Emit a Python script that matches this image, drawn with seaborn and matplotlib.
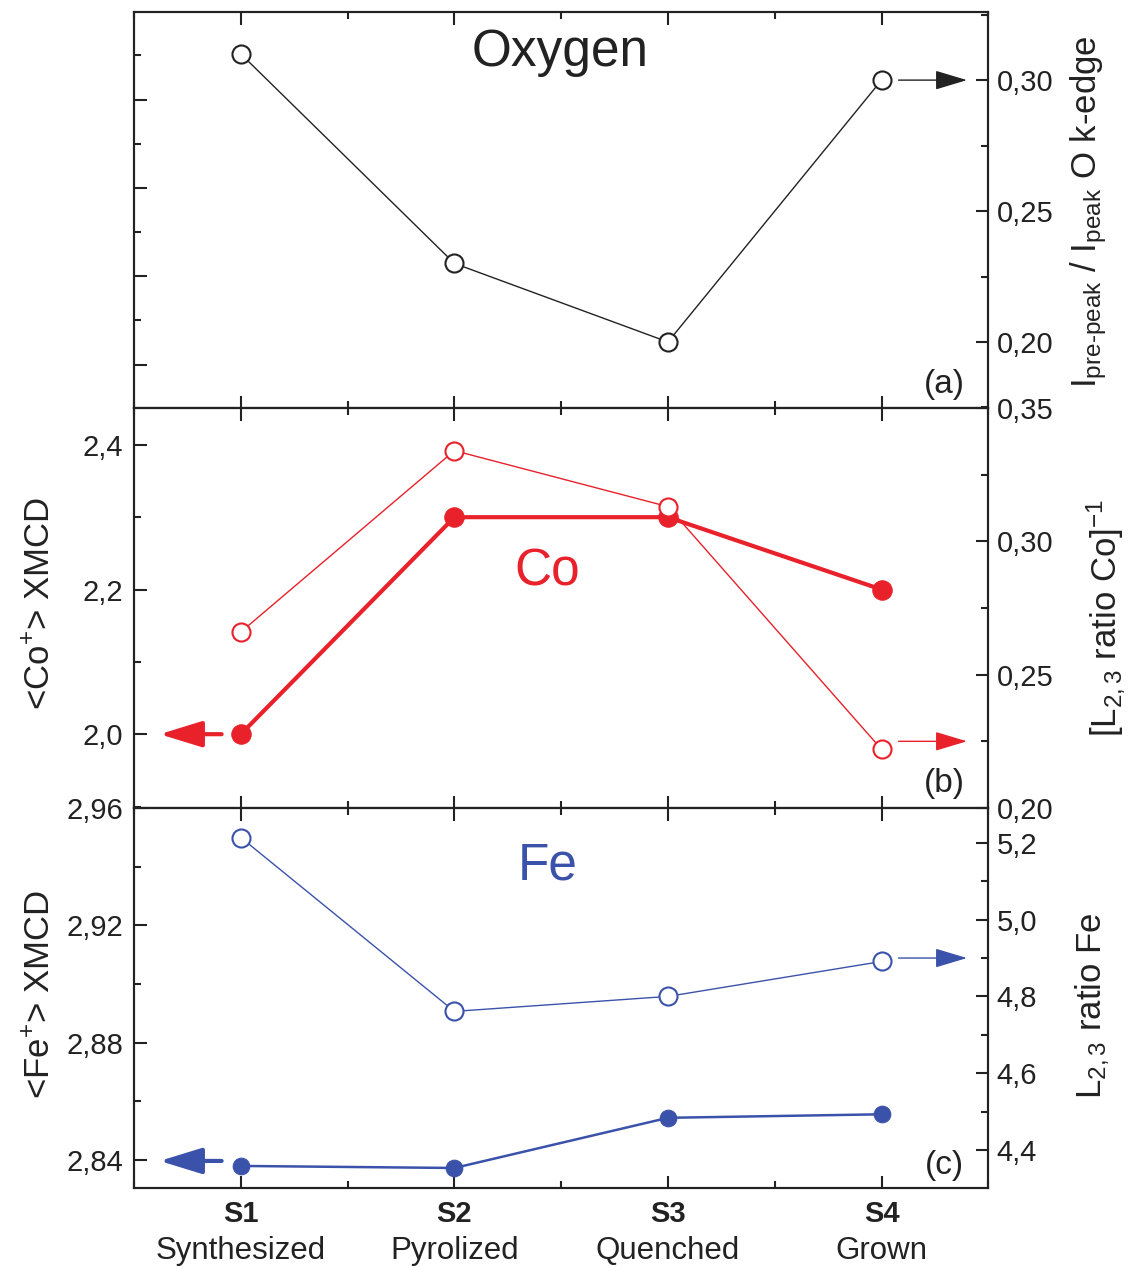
import numpy as np
import pandas as pd
import seaborn as sns
import matplotlib.pyplot as plt
from matplotlib.ticker import MultipleLocator, FuncFormatter, NullFormatter

samples = ['S1', 'S2', 'S3', 'S4']
stages = ['Synthesized', 'Pyrolized', 'Quenched', 'Grown']
pos = [1, 2, 3, 4]

oxygen_ratio = [0.310, 0.230, 0.200, 0.300]
co_xmcd = [2.00, 2.30, 2.30, 2.20]
co_inv_ratio = [0.266, 0.334, 0.313, 0.222]
fe_xmcd = [2.838, 2.8373, 2.8544, 2.8556]
fe_ratio = [5.214, 4.761, 4.800, 4.891]

RED = '#e8212b'
BLUE = '#3b52aa'
DARK = '#222222'

sns.set_style('ticks')
plt.rcParams['font.family'] = ['Liberation Sans', 'DejaVu Sans']
plt.rcParams['mathtext.fontset'] = 'custom'
plt.rcParams['mathtext.rm'] = 'Liberation Sans'
plt.rcParams['mathtext.it'] = 'Liberation Sans:italic'
plt.rcParams['mathtext.bf'] = 'Liberation Sans:bold'
plt.rcParams['axes.edgecolor'] = DARK
plt.rcParams['axes.linewidth'] = 1.5

TICK_FS = 21
LABEL_FS = 25
NAME_FS = 37


def comma(nd):
    return FuncFormatter(lambda v, p: f'{v:.{nd}f}'.replace('.', ','))


def style(ax, twin):
    ax.set_xlim(0.5, 4.5)
    ax.xaxis.set_major_locator(MultipleLocator(1))
    ax.xaxis.set_minor_locator(MultipleLocator(0.5))
    ax.tick_params(axis='x', which='both', direction='in', top=True, bottom=True,
                   labelbottom=False, color=DARK, width=1.5)
    ax.tick_params(axis='x', which='major', length=9)
    ax.tick_params(axis='x', which='minor', length=5)
    ax.tick_params(axis='y', which='both', direction='in', left=True, right=False,
                   labelsize=TICK_FS, color=DARK, width=1.5, labelcolor=DARK, pad=8)
    ax.tick_params(axis='y', which='major', length=9)
    ax.tick_params(axis='y', which='minor', length=5)
    twin.tick_params(axis='y', which='both', direction='in', right=True, left=False,
                     labelsize=TICK_FS, color=DARK, width=1.5, labelcolor=DARK, pad=6)
    twin.tick_params(axis='y', which='major', length=9)
    twin.tick_params(axis='y', which='minor', length=5)
    ax.set_xlabel('')


def arrow(ax, x0, x1, y, color, lw, hl, hw):
    ax.annotate('', xy=(x1, y), xytext=(x0, y),
                arrowprops=dict(arrowstyle=f'-|>,head_length={hl},head_width={hw}',
                                color=color, lw=lw, shrinkA=0, shrinkB=0,
                                mutation_scale=20))


fig = plt.figure(figsize=(11.36, 12.67), dpi=100)
L, W = 0.118, 0.752
ax_a = fig.add_axes([L, 0.678, W, 0.3125])
ax_b = fig.add_axes([L, 0.3623, W, 0.3157])
ax_c = fig.add_axes([L, 0.0624, W, 0.2999])

# (a) oxygen
tw_a = ax_a.twinx()
sns.lineplot(x=pos, y=oxygen_ratio, ax=tw_a, color=DARK, lw=1, marker='o',
             markersize=13, markerfacecolor='white', markeredgecolor=DARK,
             markeredgewidth=1.5)
ax_a.set_ylim(-0.49, 3.99)
ax_a.yaxis.set_major_locator(MultipleLocator(1))
ax_a.yaxis.set_minor_locator(MultipleLocator(0.5))
ax_a.yaxis.set_major_formatter(NullFormatter())
tw_a.set_ylim(0.1748, 0.326)
tw_a.yaxis.set_major_locator(MultipleLocator(0.05))
tw_a.yaxis.set_minor_locator(MultipleLocator(0.025))
tw_a.yaxis.set_major_formatter(comma(2))
style(ax_a, tw_a)
tw_a.set_ylabel(r'I$_{\mathrm{pre}\text{-}\mathrm{peak}}$ / I$_{\mathrm{peak}}$ O k-edge',
                fontsize=LABEL_FS, color=DARK)
tw_a.yaxis.set_label_coords(1.094, 0.495)
arrow(tw_a, 4.08, 4.40, oxygen_ratio[3], DARK, 1, 1.0, 0.3)
ax_a.text(0.499, 0.899, 'Oxygen', transform=ax_a.transAxes, ha='center',
          va='center', fontsize=NAME_FS, color=DARK)
ax_a.text(0.972, 0.06, '(a)', transform=ax_a.transAxes, ha='right',
          va='center', fontsize=24, color=DARK)

# (b) cobalt
tw_b = ax_b.twinx()
sns.lineplot(x=pos, y=co_xmcd, ax=ax_b, color=RED, lw=3, marker='o',
             markersize=14, markeredgecolor=RED)
sns.lineplot(x=pos, y=co_inv_ratio, ax=tw_b, color=RED, lw=1, marker='o',
             markersize=13, markerfacecolor='white', markeredgecolor=RED,
             markeredgewidth=1.5)
ax_b.set_ylim(1.898, 2.451)
ax_b.yaxis.set_major_locator(MultipleLocator(0.2))
ax_b.yaxis.set_minor_locator(MultipleLocator(0.1))
ax_b.yaxis.set_major_formatter(comma(1))
tw_b.set_ylim(0.20, 0.35)
tw_b.yaxis.set_major_locator(MultipleLocator(0.05))
tw_b.yaxis.set_minor_locator(MultipleLocator(0.025))
tw_b.yaxis.set_major_formatter(comma(2))
style(ax_b, tw_b)
ax_b.set_ylabel(r'<Co$^{+}$> XMCD', fontsize=LABEL_FS, color=DARK)
ax_b.yaxis.set_label_coords(-0.090, 0.51)
tw_b.set_ylabel(r'[L$_{2,3}$ ratio Co]$^{-1}$', fontsize=LABEL_FS, color=DARK)
tw_b.yaxis.set_label_coords(1.112, 0.475)
arrow(ax_b, 0.91, 0.62, co_xmcd[0], RED, 3, 1.3, 0.4)
arrow(tw_b, 4.08, 4.40, 0.225, RED, 1, 1.0, 0.3)
ax_b.text(0.484, 0.59, 'Co', transform=ax_b.transAxes, ha='center',
          va='center', fontsize=NAME_FS, color=RED)
ax_b.text(0.972, 0.06, '(b)', transform=ax_b.transAxes, ha='right',
          va='center', fontsize=24, color=DARK)

# (c) iron
tw_c = ax_c.twinx()
sns.lineplot(x=pos, y=fe_xmcd, ax=ax_c, color=BLUE, lw=1.8, marker='o',
             markersize=12, markeredgecolor=BLUE)
sns.lineplot(x=pos, y=fe_ratio, ax=tw_c, color=BLUE, lw=1, marker='o',
             markersize=13, markerfacecolor='white', markeredgecolor=BLUE,
             markeredgewidth=1.5)
ax_c.set_ylim(2.8305, 2.96)
ax_c.yaxis.set_major_locator(MultipleLocator(0.04))
ax_c.yaxis.set_minor_locator(MultipleLocator(0.02))
ax_c.yaxis.set_major_formatter(comma(2))
tw_c.set_ylim(4.301, 5.291)
tw_c.yaxis.set_major_locator(MultipleLocator(0.2))
tw_c.yaxis.set_minor_locator(MultipleLocator(0.1))
tw_c.yaxis.set_major_formatter(comma(1))
style(ax_c, tw_c)
ax_c.set_ylabel(r'<Fe$^{+}$> XMCD', fontsize=LABEL_FS, color=DARK)
ax_c.yaxis.set_label_coords(-0.090, 0.51)
tw_c.set_ylabel(r'L$_{2,3}$ ratio Fe', fontsize=LABEL_FS, color=DARK)
tw_c.yaxis.set_label_coords(1.100, 0.48)
arrow(ax_c, 0.91, 0.62, 2.8397, BLUE, 3, 1.3, 0.4)
arrow(tw_c, 4.08, 4.40, 4.90, BLUE, 1, 1.0, 0.3)
ax_c.text(0.484, 0.847, 'Fe', transform=ax_c.transAxes, ha='center',
          va='center', fontsize=NAME_FS, color=BLUE)
ax_c.text(0.972, 0.06, '(c)', transform=ax_c.transAxes, ha='right',
          va='center', fontsize=24, color=DARK)

ax_c.set_xticks(pos)
ax_c.set_xticklabels(samples, fontsize=21, fontweight='bold', color=DARK)
ax_c.tick_params(axis='x', labelbottom=True, pad=9)
for p, name in zip(pos, stages):
    ax_c.text(p, -0.165, name, transform=ax_c.get_xaxis_transform(),
              ha='center', va='center', fontsize=22.5, color=DARK)

fig.savefig('out.png', dpi=100)
